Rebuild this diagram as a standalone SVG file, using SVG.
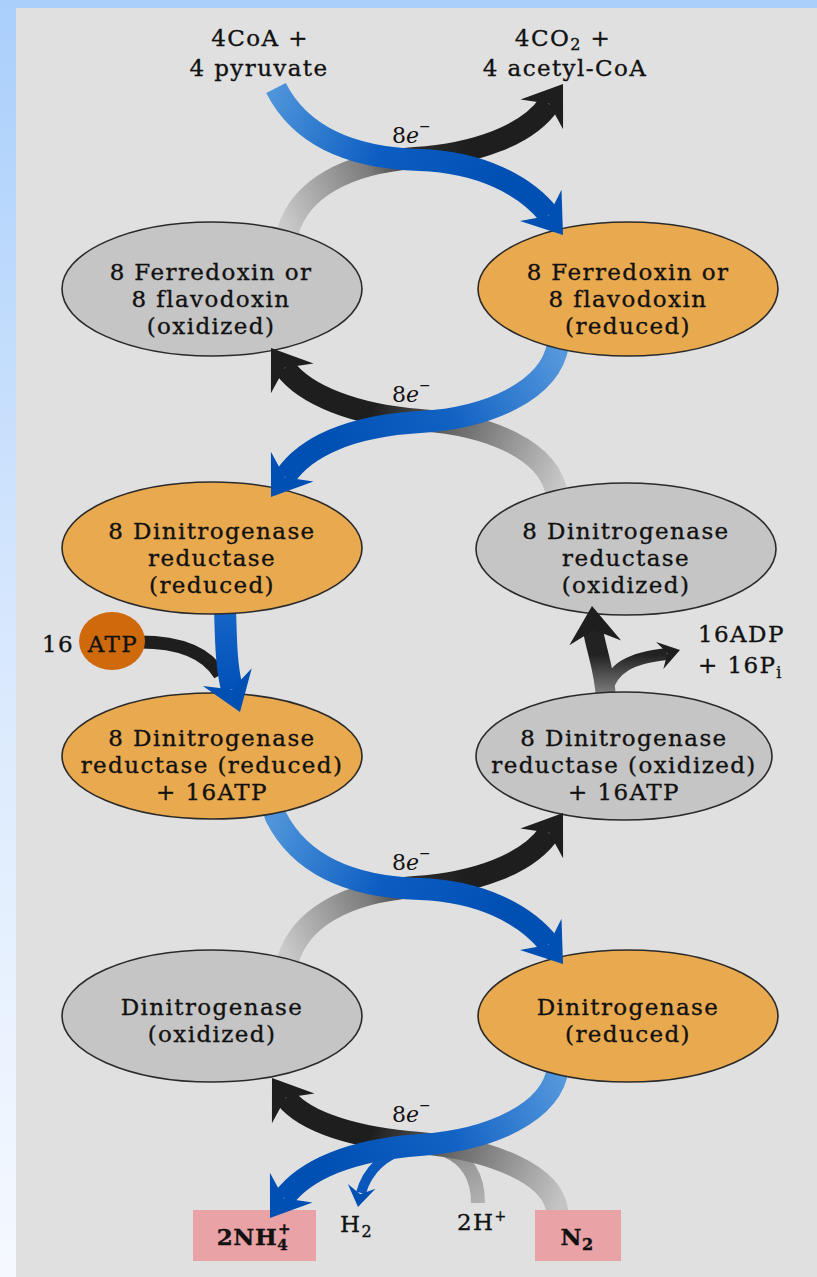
<svg xmlns="http://www.w3.org/2000/svg" width="817" height="1277" viewBox="0 0 817 1277">
<defs>
<linearGradient id="bg" x1="0" y1="0" x2="0" y2="1">
<stop offset="0" stop-color="#a9cffb"/>
<stop offset="0.5" stop-color="#d8e8fd"/>
<stop offset="1" stop-color="#f5f9ff"/>
</linearGradient>
<linearGradient id="gBlueTop" gradientUnits="userSpaceOnUse" x1="276" y1="88" x2="500" y2="190">
<stop offset="0" stop-color="#4e94da"/><stop offset="0.5" stop-color="#0c5dc2"/><stop offset="1" stop-color="#0050b4"/>
</linearGradient>
<linearGradient id="gBlackTop" gradientUnits="userSpaceOnUse" x1="288" y1="231" x2="470" y2="150">
<stop offset="0" stop-color="#cacaca"/><stop offset="0.5" stop-color="#7a7a7a"/><stop offset="0.75" stop-color="#2a2a2a"/><stop offset="1" stop-color="#1e1e1e"/>
</linearGradient>
<linearGradient id="gBlueMid" gradientUnits="userSpaceOnUse" x1="558" y1="345" x2="330" y2="450">
<stop offset="0" stop-color="#5598dc"/><stop offset="0.5" stop-color="#1262c4"/><stop offset="1" stop-color="#0050b4"/>
</linearGradient>
<linearGradient id="gBlackMid" gradientUnits="userSpaceOnUse" x1="557" y1="495" x2="370" y2="415">
<stop offset="0" stop-color="#c8c8c8"/><stop offset="0.55" stop-color="#6e6e6e"/><stop offset="1" stop-color="#1e1e1e"/>
</linearGradient>
<linearGradient id="gBlueLow" gradientUnits="userSpaceOnUse" x1="276" y1="817" x2="500" y2="919">
<stop offset="0" stop-color="#4e94da"/><stop offset="0.5" stop-color="#0c5dc2"/><stop offset="1" stop-color="#0050b4"/>
</linearGradient>
<linearGradient id="gBlackLow" gradientUnits="userSpaceOnUse" x1="288" y1="960" x2="470" y2="879">
<stop offset="0" stop-color="#cacaca"/><stop offset="0.5" stop-color="#7a7a7a"/><stop offset="0.75" stop-color="#2a2a2a"/><stop offset="1" stop-color="#1e1e1e"/>
</linearGradient>
<linearGradient id="gBlueBot" gradientUnits="userSpaceOnUse" x1="558" y1="1068" x2="330" y2="1170">
<stop offset="0" stop-color="#5598dc"/><stop offset="0.5" stop-color="#1262c4"/><stop offset="1" stop-color="#0050b4"/>
</linearGradient>
<linearGradient id="gBlackBot" gradientUnits="userSpaceOnUse" x1="557" y1="1210" x2="370" y2="1135">
<stop offset="0" stop-color="#c4c4c4"/><stop offset="0.55" stop-color="#6e6e6e"/><stop offset="1" stop-color="#1e1e1e"/>
</linearGradient>
<linearGradient id="gH" gradientUnits="userSpaceOnUse" x1="478" y1="1203" x2="445" y2="1150">
<stop offset="0" stop-color="#b0b0b0"/><stop offset="1" stop-color="#8a8a8a"/>
</linearGradient>
<linearGradient id="gADP" gradientUnits="userSpaceOnUse" x1="0" y1="700" x2="0" y2="655">
<stop offset="0" stop-color="#8c8c8c"/><stop offset="1" stop-color="#222"/>
</linearGradient>
<linearGradient id="gATP" gradientUnits="userSpaceOnUse" x1="0" y1="608" x2="0" y2="690">
<stop offset="0" stop-color="#1566c8"/><stop offset="1" stop-color="#0050b8"/>
</linearGradient>
<path id="headL" d="M0,0 L-37,-26 L-24,0 L-37,26 Z"/>
<path id="headS" d="M0,0 L-21,-14 L-13,0 L-21,14 Z"/>
</defs>
<style>
.t{font-family:"DejaVu Serif","Liberation Serif",serif;font-size:23px;letter-spacing:1.4px;fill:#111;stroke:#111;stroke-width:0.35px;text-anchor:middle}
.s{text-anchor:start}
.e{font-family:"DejaVu Serif","Liberation Serif",serif;font-size:22px;fill:#111}
.b{font-weight:bold;letter-spacing:0.5px}
.band{fill:none;stroke-linecap:butt;stroke-width:22}
.gray{fill:#c5c5c5;stroke:#2a2a2a;stroke-width:1.6}
.orange{fill:#e9a94f;stroke:#2a2a2a;stroke-width:1.6}
.box{fill:#e9a2a5}
.bh{fill:#0050b4}
.kh{fill:#1e1e1e}
</style>

<rect x="0" y="0" width="817" height="1277" fill="url(#bg)"/>
<rect x="16" y="8" width="801" height="1269" fill="#e0e0e0"/>

<g id="connectors">
  <path class="band" stroke="url(#gBlackTop)" d="M290 240 L288 231 C300 190 345 163 415 158 C475 154 528 135 549 104"/>
  <path class="band" stroke="url(#gBlueTop)" d="M276 88 C300 135 350 158 420 160 C480 162 525 185 549 215"/>
  <path class="band" stroke="url(#gBlackMid)" d="M558 505 L557 495 C550 450 490 425 420 420 C355 415 305 395 285 368"/>
  <path class="band" stroke="url(#gBlueMid)" d="M560 335 L558 345 C550 390 490 418 420 422 C350 426 305 447 285 477"/>
  <path class="band" stroke="#1e1e1e" style="stroke-width:13px" d="M140 642 C175 642 205 650 220 675"/>
  <path class="band" stroke="url(#gATP)" d="M225 600 L225 608 C226 640 226 665 232 689"/>
  <path class="band" stroke="url(#gADP)" style="stroke-width:12px" d="M606 692 C612 668 630 658 667 654"/>
  <path class="band" stroke="url(#gADP)" style="stroke-width:20px" d="M606 705 L606 700 C605 670 596 650 593 630"/>
  <path class="band" stroke="url(#gBlackLow)" d="M290 969 L288 960 C300 919 345 892 415 887 C475 883 528 864 549 833"/>
  <path class="band" stroke="url(#gBlueLow)" d="M272 805 L276 817 C300 864 350 887 420 889 C480 891 525 914 549 944"/>
  <path class="band" stroke="url(#gH)" style="stroke-width:14px" d="M478 1203 C478 1180 470 1160 445 1150"/>
  <path class="band" stroke="url(#gBlackBot)" d="M557 1215 L557 1210 C552 1175 495 1150 420 1143 C355 1138 305 1122 286 1098"/>
  <path class="band" stroke="#0a58bc" style="stroke-width:10px" d="M410 1147 C386 1154 368 1168 361 1193"/>
  <path class="band" stroke="url(#gBlueBot)" d="M559 1060 L558 1068 C552 1112 492 1140 420 1145 C350 1150 305 1170 284 1198"/>
</g>

<g id="node-ferredoxin-ox">
  <ellipse class="gray" cx="212" cy="289" rx="150" ry="67"/>
  <text class="t" x="211" y="280">8 Ferredoxin or</text>
  <text class="t" x="211" y="307">8 flavodoxin</text>
  <text class="t" x="211" y="334">(oxidized)</text>
</g>
<g id="node-ferredoxin-red">
  <ellipse class="orange" cx="628" cy="289" rx="150" ry="67"/>
  <text class="t" x="628" y="280">8 Ferredoxin or</text>
  <text class="t" x="628" y="307">8 flavodoxin</text>
  <text class="t" x="628" y="334">(reduced)</text>
</g>
<g id="node-reductase-red">
  <ellipse class="orange" cx="212" cy="548" rx="150" ry="66"/>
  <text class="t" x="212" y="539">8 Dinitrogenase</text>
  <text class="t" x="212" y="566">reductase</text>
  <text class="t" x="212" y="593">(reduced)</text>
</g>
<g id="node-reductase-ox">
  <ellipse class="gray" cx="626" cy="549" rx="150" ry="66"/>
  <text class="t" x="626" y="539">8 Dinitrogenase</text>
  <text class="t" x="626" y="566">reductase</text>
  <text class="t" x="626" y="593">(oxidized)</text>
</g>
<g id="node-atp">
  <ellipse cx="112" cy="641" rx="33" ry="29" fill="#cf6a0c"/>
  <text class="t s" x="42" y="652">16</text>
  <text class="t" x="113" y="652">ATP</text>
</g>
<g id="node-reductase-red-atp">
  <ellipse class="orange" cx="212" cy="756" rx="150" ry="63"/>
  <text class="t" x="212" y="746">8 Dinitrogenase</text>
  <text class="t" x="212" y="773">reductase (reduced)</text>
  <text class="t" x="212" y="800">+ 16ATP</text>
</g>
<g id="node-reductase-ox-atp">
  <ellipse class="gray" cx="624" cy="756" rx="148" ry="64"/>
  <text class="t" x="624" y="746">8 Dinitrogenase</text>
  <text class="t" x="624" y="773">reductase (oxidized)</text>
  <text class="t" x="624" y="800">+ 16ATP</text>
</g>
<g id="node-adp">
  <text class="t s" x="698" y="642">16ADP</text>
  <text class="t s" x="698" y="673">+ 16P<tspan font-size="16" dy="5">i</tspan></text>
</g>
<g id="node-dinitrogenase-ox">
  <ellipse class="gray" cx="212" cy="1016" rx="150" ry="66"/>
  <text class="t" x="212" y="1015">Dinitrogenase</text>
  <text class="t" x="212" y="1042">(oxidized)</text>
</g>
<g id="node-dinitrogenase-red">
  <ellipse class="orange" cx="628" cy="1016" rx="150" ry="66"/>
  <text class="t" x="628" y="1015">Dinitrogenase</text>
  <text class="t" x="628" y="1042">(reduced)</text>
</g>
<g id="node-pyruvate">
  <text class="t" x="260" y="46">4CoA +</text>
  <text class="t" x="259" y="76">4 pyruvate</text>
</g>
<g id="node-acetylcoa">
  <text class="t" x="563" y="46">4CO<tspan font-size="16" dy="4">2</tspan><tspan dy="-4"> +</tspan></text>
  <text class="t" x="565" y="76">4 acetyl-CoA</text>
</g>
<g id="node-nh4">
  <rect class="box" x="193" y="1210" width="123" height="51"/>
  <text class="t b" x="254" y="1245">2NH<tspan font-size="15" dy="5">4</tspan><tspan font-size="15" dx="-10" dy="-16">+</tspan></text>
</g>
<g id="node-h2">
  <text class="t s" x="340" y="1232">H<tspan font-size="16" dy="5">2</tspan></text>
</g>
<g id="node-2h">
  <text class="t s" x="457" y="1230">2H<tspan font-size="14" dy="-9">+</tspan></text>
</g>
<g id="node-n2">
  <rect class="box" x="535" y="1210" width="86" height="51"/>
  <text class="t b" x="577" y="1245">N<tspan font-size="16" dy="5">2</tspan></text>
</g>

<g id="connector-heads">
  <use href="#headL" class="bh" transform="translate(563 235) rotate(53)"/>
  <use href="#headL" class="kh" transform="translate(563 84) rotate(-55)"/>
  <use href="#headL" class="bh" transform="translate(271 497) rotate(125)"/>
  <use href="#headL" class="kh" transform="translate(271 348) rotate(-125)"/>
  <use href="#headL" class="bh" transform="translate(240 712) rotate(70)"/>
  <use href="#headL" class="kh" transform="translate(592 606) rotate(-95)"/>
  <use href="#headS" class="kh" transform="translate(680 650) rotate(-15)"/>
  <use href="#headL" class="bh" transform="translate(563 964) rotate(53)"/>
  <use href="#headL" class="kh" transform="translate(563 813) rotate(-55)"/>
  <use href="#headL" class="bh" transform="translate(270 1218) rotate(125)"/>
  <use href="#headL" class="kh" transform="translate(272 1078) rotate(-125)"/>
  <use href="#headS" class="bh" transform="translate(358 1207) rotate(100)"/>
</g>

<g id="labels">
  <text class="e" x="392" y="143">8<tspan font-style="italic">e</tspan><tspan font-size="14" dy="-12">−</tspan></text>
  <text class="e" x="392" y="402">8<tspan font-style="italic">e</tspan><tspan font-size="14" dy="-12">−</tspan></text>
  <text class="e" x="392" y="870">8<tspan font-style="italic">e</tspan><tspan font-size="14" dy="-12">−</tspan></text>
  <text class="e" x="392" y="1122">8<tspan font-style="italic">e</tspan><tspan font-size="14" dy="-12">−</tspan></text>
</g>
</svg>
